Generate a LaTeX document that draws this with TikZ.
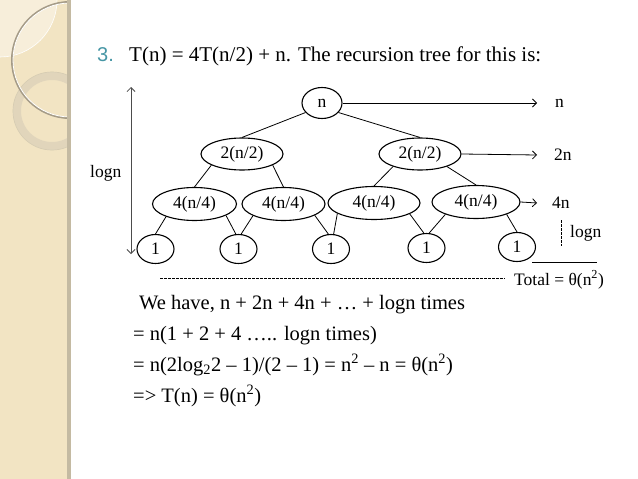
\documentclass[tikz,border=0pt]{standalone}
\usepackage{fontspec}
\setmainfont{Liberation Serif}
\newfontfamily\numfont{Liberation Sans}
\usetikzlibrary{shapes.geometric,arrows.meta}
\definecolor{stripc}{RGB}{242,228,195}
\definecolor{lightc}{RGB}{247,238,218}
\definecolor{arcgray}{RGB}{165,155,135}
\definecolor{ringc}{RGB}{218,208,185}
\definecolor{bandc}{RGB}{196,186,162}
\definecolor{numc}{RGB}{70,150,165}
\begin{document}
\begin{tikzpicture}[x=1pt,y=-1pt,
  every node/.style={font=\fontsize{17.5}{20}\selectfont},
  tnode/.style={ellipse,draw,line width=1.1pt,inner sep=0pt,fill=white},
  edge/.style={line width=0.8pt},
  arr/.style={line width=0.8pt,-{Straight Barb[length=4pt,width=8pt]}},
  darr/.style={line width=0.8pt,draw=black!70,{Straight Barb[length=4pt,width=8pt]}-{Straight Barb[length=4pt,width=8pt]}},
  dline/.style={line width=0.7pt,dash pattern=on 2.5pt off 1.5pt},
  lab/.style={inner sep=0pt},
  body/.style={anchor=base west,inner sep=0pt,font=\fontsize{20.5}{24}\selectfont},
]
\useasboundingbox (0,0) rectangle (638,479);
\fill[white] (0,0) rectangle (638,479);
% left decorative strip
\begin{scope}
\clip (0,0) rectangle (68,479);
\fill[stripc] (0,0) rectangle (68,479);
\fill[lightc] (0,0) circle[radius=57pt];
\draw[white,line width=0.6pt] (0,0) circle[radius=57pt];
\draw[line width=0.7pt,ringc!85!black,opacity=0.5] (52,111) circle[radius=39pt];
\draw[line width=8pt,ringc,opacity=0.7] (52,111) circle[radius=35pt];
\draw[line width=2pt,arcgray] (70,60) circle[radius=58pt];
\draw[line width=0.8pt,white] (70,60) circle[radius=57pt];
\end{scope}
\fill[bandc] (67,0) rectangle (71,479);

% title
\node[anchor=base west,inner sep=0pt,text=numc,font=\numfont\fontsize{20}{24}\selectfont] (num) at (97,61) {3.};
\node[anchor=base west,inner sep=0pt,font=\fontsize{21}{24}\selectfont] (title) at (129,61) {T(n) = 4T(n/2) + n. The recursion tree for this is:};

% tree nodes
\node[tnode,minimum width=40pt,minimum height=31pt] (root) at (322,103) {n};
\node[tnode,minimum width=82pt,minimum height=32pt] (L) at (242,154) {2(n/2)};
\node[tnode,minimum width=82pt,minimum height=32pt] (R) at (420,154) {2(n/2)};
\node[tnode,minimum width=84pt,minimum height=33pt] (a4) at (194.5,204) {4(n/4)};
\node[tnode,minimum width=83pt,minimum height=33pt] (b4) at (283.5,204) {4(n/4)};
\node[tnode,minimum width=92pt,minimum height=33pt] (c4) at (374,203) {4(n/4)};
\node[tnode,minimum width=88pt,minimum height=33pt] (d4) at (476,202) {4(n/4)};
\node[tnode,minimum width=37pt,minimum height=29pt] (a1) at (155.5,249) {1};
\node[tnode,minimum width=37pt,minimum height=29pt] (b1) at (238.5,249) {1};
\node[tnode,minimum width=37pt,minimum height=29pt] (c1) at (331,249) {1};
\node[tnode,minimum width=37pt,minimum height=29pt] (d1) at (426.5,248) {1};
\node[tnode,minimum width=37pt,minimum height=29pt] (e1) at (517,247) {1};

% tree edges
\draw[edge] (root.210) -- (L.north);
\draw[edge] (root.-30) -- (R.north);
\draw[edge] (L.200) -- (a4.north);
\draw[edge] (L.-20) -- (b4.north);
\draw[edge] (R.205) -- (c4.north);
\draw[edge] (R.-25) -- (d4.north);
\draw[edge] (a4.204) -- (a1.north);
\draw[edge] (a4.-20) -- (b1.100);
\draw[edge] (b4.201) -- (b1.80);
\draw[edge] (b4.-20) -- (c1.100);
\draw[edge] (c4.196) -- (c1.80);
\draw[edge] (c4.-17) -- (d1.100);
\draw[edge] (d4.202) -- (d1.80);
\draw[edge] (d4.-22) -- (e1.north);

% level cost arrows
\coordinate (t1) at (537,103);
\coordinate (t2) at (537,155);
\coordinate (t3) at (537,203);
\draw[arr] (root.east) -- (t1);
\draw[arr] (R.east) -- (t2);
\draw[arr] (d4.east) -- (t3);
\node[lab,anchor=west] (c1lab) at (555,103) {n};
\node[lab,anchor=west] (c2lab) at (554,155) {2n};
\node[lab,anchor=west] (c3lab) at (552,203) {4n};
\coordinate (dv1) at (561,220);
\coordinate (dv2) at (561,246);
\draw[dline] (dv1) -- (dv2);
\node[lab,anchor=west] (lgr) at (570,233) {logn};
\coordinate (s1) at (532,262);
\coordinate (s2) at (597,262);
\draw[line width=0.8pt] (s1) -- (s2);
\coordinate (h1) at (160,278);
\coordinate (h2) at (505,278);
\draw[dline] (h1) -- (h2);
\node[lab,anchor=base west] (tot) at (514,285) {Total = θ(n\textsuperscript{2})};

% height arrow
\coordinate (vt) at (131,87);
\coordinate (vb) at (131,254);
\draw[darr] (vt) -- (vb);
\node[lab,anchor=west] (lgl) at (90,173) {logn};

% body text
\node[body] (l1) at (139,309) {We have, n + 2n + 4n + … + logn times};
\node[body] (l2) at (133,340) {= n(1 + 2 + 4 ….. logn times)};
\node[body] (l3) at (133,371) {= n(2log\textsubscript{2}2 – 1)/(2 – 1) = n\textsuperscript{2} – n = θ(n\textsuperscript{2})};
\node[body] (l4) at (133,402) {=> T(n) = θ(n\textsuperscript{2})};
\end{tikzpicture}
\end{document}
